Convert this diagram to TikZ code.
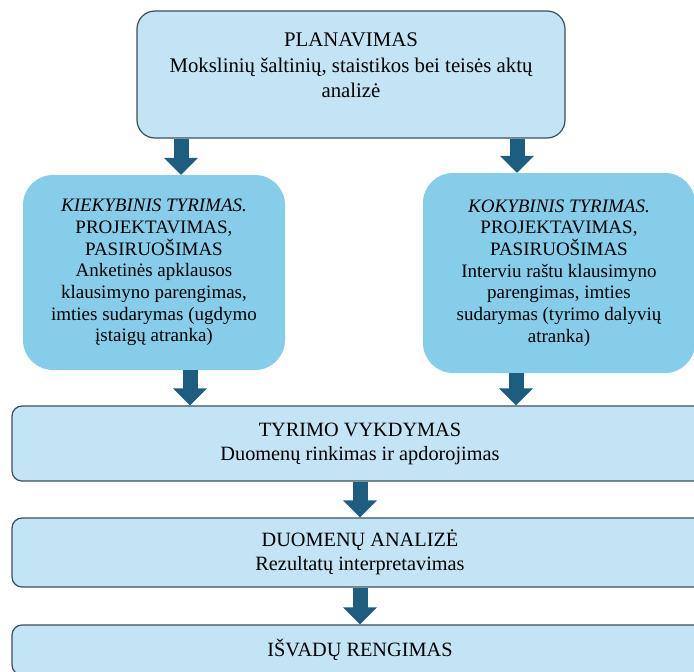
\documentclass[tikz,border=0pt]{standalone}
\usepackage{fontspec}
\setmainfont{Liberation Serif}
\usetikzlibrary{positioning,arrows.meta}

\definecolor{lightfill}{HTML}{C3E4F4}
\definecolor{sidefill}{HTML}{86CDEA}
\definecolor{boxline}{HTML}{3C4F5C}
\definecolor{arrowblue}{HTML}{1C5D80}

\tikzset{
  stagebox/.style={draw=boxline, line width=1.2pt, fill=lightfill,
    rounded corners=10pt, inner sep=0pt, align=center,
    font=\fontsize{20.3}{24}\selectfont},
  sidebox/.style={fill=sidefill, rounded corners=30pt, inner sep=0pt,
    align=center, font=\fontsize{19}{21.7}\selectfont},
  blockarrow/.style={draw=arrowblue, line width=15pt,
    -{Triangle[width=33pt, length=17pt]}},
}

\begin{document}
\begin{tikzpicture}[x=1pt, y=-1pt]
  \clip (0,0) rectangle (694,672);
  \fill[white] (0,0) rectangle (694,672);

  % boxes
  \node[stagebox, rounded corners=18pt, minimum width=428pt, minimum height=127pt]
    (plan) at (351,74.5) {};
  \node[align=center, font=\fontsize{20.8}{25.5}\selectfont, below=19pt of plan.north]
    (plantext) {PLANAVIMAS\\Mokslinių šaltinių, staistikos bei teisės aktų\\analizė};

  \node[sidebox, minimum width=262pt, minimum height=195pt] (quant) at (154,272.5)
    {\textit{KIEKYBINIS TYRIMAS.}\\PROJEKTAVIMAS,\\PASIRUOŠIMAS\\Anketinės apklausos\\klausimyno parengimas,\\imties sudarymas (ugdymo\\įstaigų atranka)};
  \node[sidebox, minimum width=272pt, minimum height=200pt] (qual) at (559,273)
    {\textit{KOKYBINIS TYRIMAS.}\\PROJEKTAVIMAS,\\PASIRUOŠIMAS\\Interviu raštu klausimyno\\parengimas, imties\\sudarymas (tyrimo dalyvių\\atranka)};

  \node[stagebox, minimum width=696pt, minimum height=75pt] (exec) at (360,443.5)
    {TYRIMO VYKDYMAS\\Duomenų rinkimas ir apdorojimas};
  \node[stagebox, minimum width=696pt, minimum height=69pt] (anal) at (360,552.5)
    {DUOMENŲ ANALIZĖ\\Rezultatų interpretavimas};
  \node[stagebox, minimum width=696pt, minimum height=50pt] (concl) at (360,650)
    {IŠVADŲ RENGIMAS};

  % arrows
  \draw[blockarrow] ([xshift=27pt]quant.north |- plan.south) -- ([xshift=27pt]quant.north);
  \draw[blockarrow] ([xshift=-42pt]qual.north |- plan.south) -- ([xshift=-42pt]qual.north);
  \draw[blockarrow] ([xshift=36pt]quant.south) -- ([xshift=36pt]quant.south |- exec.north);
  \draw[blockarrow] ([xshift=-43pt]qual.south) -- ([xshift=-43pt]qual.south |- exec.north);
  \draw[blockarrow] (exec.south) -- (anal.north);
  \draw[blockarrow] (anal.south) -- (concl.north);
\end{tikzpicture}
\end{document}
